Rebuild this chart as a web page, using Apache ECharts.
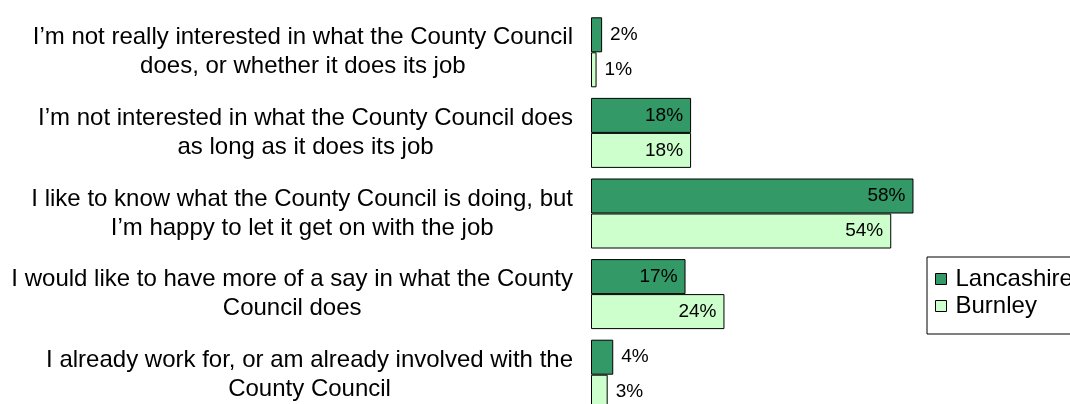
<!DOCTYPE html>
<html>
<head>
<meta charset="utf-8">
<script src="https://cdn.jsdelivr.net/npm/echarts@6/dist/echarts.min.js"></script>
<style>
  html, body { margin: 0; padding: 0; background: #fff; }
  #chart { width: 1070px; height: 404px; }
</style>
</head>
<body>
<div id="chart"></div>
<script>
const categories = [
  "I\u2019m not really interested in what the County Council\ndoes, or whether it does its job",
  "I\u2019m not interested in what the County Council does\nas long as it does its job",
  "I like to know what the County Council is doing, but\nI\u2019m happy to let it get on with the job",
  "I would like to have more of a say in what the County\nCouncil does",
  "I already work for, or am already involved with the\nCounty Council"
];
const lancashire = [2, 18, 58, 17, 4];
const burnley = [1, 18, 54, 24, 3];
const seriesNames = ["Lancashire", "Burnley"];

const font = "Arial, 'Liberation Sans', sans-serif";

const chart = echarts.init(document.getElementById("chart"));

const toData = (arr) =>
  arr.map((v) => ({
    value: v,
    label: { position: v < 10 ? "right" : "insideRight" }
  }));

const makeSeries = (name, values, color) => ({
  name: name,
  type: "bar",
  barWidth: 35,
  barGap: "0%",
  data: toData(values),
  itemStyle: { color: color, borderColor: "#000", borderWidth: 1 },
  label: {
    show: true,
    formatter: "{c}%",
    color: "#000",
    fontFamily: font,
    fontSize: 19,
    distance: 8
  },
  emphasis: { disabled: true }
});

chart.setOption({
  animation: false,
  grid: { left: 591, width: 333.6, top: 12, height: 403, outerBoundsMode: "none" },
  legend: {
    orient: "vertical",
    left: 927,
    top: 257,
    data: seriesNames,
    icon: "rect",
    itemWidth: 11,
    itemHeight: 11,
    itemGap: 3,
    padding: [10, 20, 16, 8],
    borderColor: "#000",
    borderWidth: 1,
    itemStyle: { borderColor: "#000", borderWidth: 1 },
    textStyle: { fontFamily: font, fontSize: 24, color: "#000", padding: [0, 0, 0, 4] }
  },
  xAxis: {
    type: "value",
    min: 0,
    max: 60,
    show: false
  },
  yAxis: {
    type: "category",
    inverse: true,
    data: categories,
    axisLine: { show: false },
    axisTick: { show: false },
    axisLabel: {
      margin: 18,
      formatter: (val) => val.split("\n").map((s) => "{c|" + s + "}").join("\n"),
      rich: {
        c: {
          align: "center",
          fontFamily: font,
          fontSize: 24,
          lineHeight: 29,
          color: "#000"
        }
      }
    }
  },
  series: [
    makeSeries(seriesNames[0], lancashire, "#339966"),
    makeSeries(seriesNames[1], burnley, "#ccffcc")
  ]
});
</script>
</body>
</html>
